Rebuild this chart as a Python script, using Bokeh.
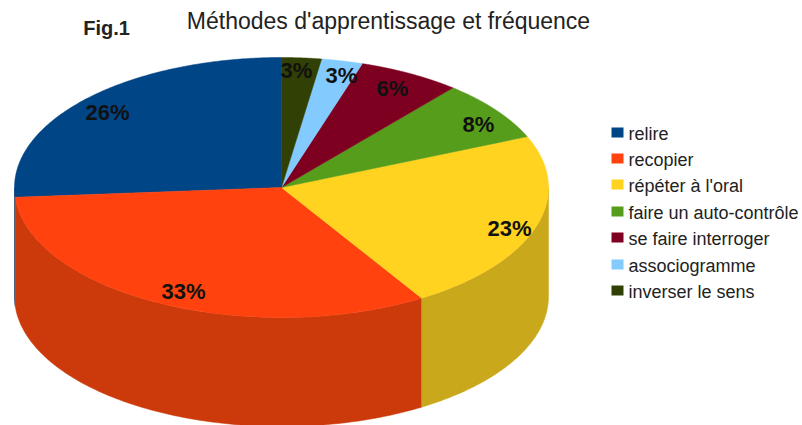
import numpy as np
from bokeh.plotting import figure
from bokeh.models import Range1d
from bokeh.core.properties import value
from bokeh.embed import file_html
from bokeh.resources import INLINE

title_text = "Méthodes d'apprentissage et fréquence"
fig_text = "Fig.1"
categories = ["relire", "recopier", "répéter à l'oral", "faire un auto-contrôle",
              "se faire interroger", "associogramme", "inverser le sens"]
shares = [26.2, 32.6, 22.6, 7.5, 6.2, 2.5, 2.4]
pct_labels = ["26%", "33%", "23%", "8%", "6%", "3%", "3%"]
colors = ["#004586", "#ff420e", "#ffd320", "#579d1c", "#7e0021", "#83caff", "#314004"]
wall_colors = ["#003a70", "#cc3a0c", "#caa81c", "#46801a", "#65001a", "#69a2cc", "#273303"]

CX, CY, RX, RY, DEPTH = 281, 187, 267, 130, 109
W, H = 802, 425
FONT = "Liberation Sans"

p = figure(width=W, height=H, output_backend="svg", toolbar_location=None,
           x_range=Range1d(0, W), y_range=Range1d(H, 0),
           min_border=0, outline_line_color=None)
p.axis.visible = False
p.grid.visible = False
p.background_fill_color = "white"
p.border_fill_color = "white"


def rim(t):
    return CX + RX * np.sin(t), CY - RY * np.cos(t)


# angles run counter-clockwise from twelve o'clock, as the legend order does
bounds = -np.cumsum([0] + shares) / sum(shares) * 2 * np.pi

# side wall: only the part of each slice that faces the viewer (pi..2pi clockwise)
for i in range(len(shares)):
    t1, t0 = bounds[i], bounds[i + 1]          # t0 < t1 <= 0
    lo, hi = max(t0, -1.5 * np.pi), min(t1, -0.5 * np.pi)
    if lo >= hi:
        continue
    t = np.linspace(lo, hi, 120)
    x, y = rim(t)
    p.patch(np.r_[x, x[::-1]], np.r_[y, y[::-1] + DEPTH],
            fill_color=wall_colors[i], line_color=wall_colors[i], line_width=0.5)

# top face
for i in range(len(shares)):
    t = np.linspace(bounds[i + 1], bounds[i], 160)
    x, y = rim(t)
    p.patch(np.r_[CX, x], np.r_[CY, y],
            fill_color=colors[i], line_color=colors[i], line_width=0.5)

# percentage labels
label_x = [107, 183, 509, 478, 392, 341, 296]
label_y = [112, 291, 228, 124, 88, 75, 70]
p.text(label_x, label_y, text=pct_labels, text_align="center", text_baseline="middle",
       text_font=value(FONT), text_font_style="bold", text_font_size="22px", text_color="#111111")

# titles
p.text([388], [20], text=[title_text], text_align="center", text_baseline="middle",
       text_font=value(FONT), text_font_size="23px", text_color="#222222")
p.text([106], [27], text=[fig_text], text_align="center", text_baseline="middle",
       text_font=value(FONT), text_font_style="bold", text_font_size="20px", text_color="#222222")

# legend
legend_y = [133, 159, 185, 212, 238, 265, 291]
p.rect([617] * 7, [y - 1 for y in legend_y], width=12, height=10, fill_color=colors, line_color=None)
p.text([628] * 7, legend_y, text=categories, text_align="left", text_baseline="middle",
       text_font=value(FONT), text_font_size="18px", text_color="#222222")

open("out.html", "w").write(file_html(p, INLINE))
